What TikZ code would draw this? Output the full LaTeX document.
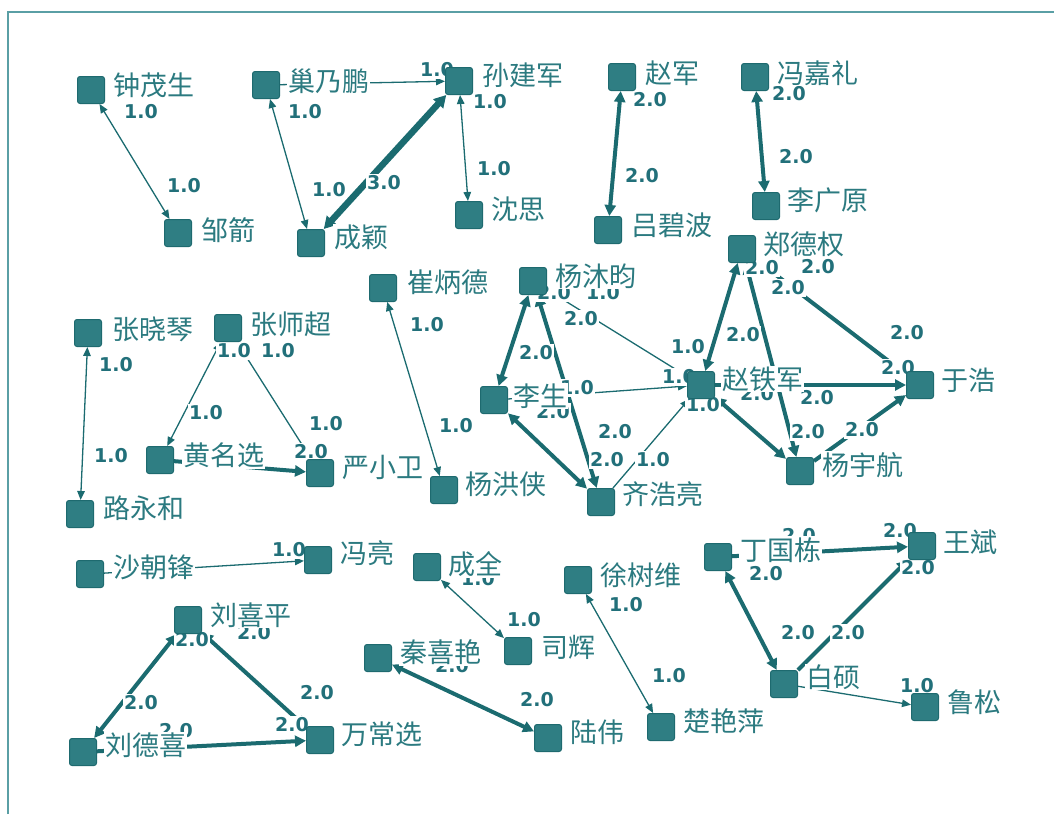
\documentclass[tikz,border=0pt]{standalone}
\usepackage{fontspec}
\newfontfamily\cjk{Noto Sans CJK SC}
\newfontfamily\dvs{DejaVu Sans}
\usetikzlibrary{arrows.meta}
\definecolor{sqfill}{HTML}{2F7E83}
\definecolor{sqdraw}{HTML}{1E6A6F}
\definecolor{txt}{HTML}{2B7A80}
\definecolor{edgec}{HTML}{1B6B70}
\definecolor{labc}{HTML}{22707A}
\definecolor{framec}{HTML}{5A9FA5}
\pgfdeclarelayer{edges}\pgfdeclarelayer{elab}\pgfdeclarelayer{names}
\pgfsetlayers{edges,elab,main,names}
\tikzset{
 sq/.style={minimum size=27pt, inner sep=0pt, rounded corners=2.5pt, fill=sqfill, draw=sqdraw, line width=1pt},
 nm/.style={anchor=west, fill=white, inner xsep=1pt, inner ysep=1pt, text=txt, font=\fontsize{27}{27}\selectfont\cjk},
 el/.style={fill=white, inner sep=1.5pt, text=labc, font=\fontsize{19}{19}\selectfont\dvs\bfseries},
 wa/.style={draw=edgec, line width=1.3pt, >={Triangle[length=9pt,width=7.5pt]}},
 wb/.style={draw=edgec, line width=4pt, >={Triangle[length=11pt,width=11pt]}},
 wc/.style={draw=edgec, line width=6.5pt, >={Triangle[length=12pt,width=13pt]}},
 fr/.style={draw=framec, line width=1.5pt}
}
\newcommand\person[6]{\node[sq] (#1) at (#2,#3) {};
 \begin{pgfonlayer}{names}\node[nm] (#1t) at (#4,#5) {#6};\end{pgfonlayer}}
\newcommand\elab[4]{\node[el] (#1) at (#2,#3) {#4};}
\begin{document}
\begin{tikzpicture}[x=1pt,y=-1pt]
\useasboundingbox (0,0) rectangle (1054,814);
\draw[fr] (8,814) -- (8,12) -- (1054,12);
% people
\person{zms}{91}{90}{112}{85}{钟茂生}
\person{zj}{178}{233}{200}{230}{邹箭}
\person{cnp}{266}{85}{287}{81}{巢乃鹏}
\person{sjj}{459}{81}{481}{75}{孙建军}
\person{cy}{311}{243}{333}{237}{成颖}
\person{ss}{469}{215}{490}{209}{沈思}
\person{zjun}{622}{77}{644}{73}{赵军}
\person{lbb}{608}{230}{630}{225}{吕碧波}
\person{fjl}{755}{77}{776}{73}{冯嘉礼}
\person{lgy}{766}{206}{786}{200}{李广原}
\person{zdq}{742}{249}{762}{244}{郑德权}
\person{zxq}{88}{333}{111}{329}{张晓琴}
\person{zsc}{228}{328}{249}{324}{张师超}
\person{cbd}{383}{288}{406}{282}{崔炳德}
\person{ymy}{533}{281}{554}{276}{杨沐昀}
\person{hmx}{160}{460}{182}{455}{黄名选}
\person{yxw}{320}{473}{341}{467}{严小卫}
\person{yhx}{444}{490}{464}{484}{杨洪侠}
\person{ls}{494}{400}{512}{396}{李生}
\person{qhl}{601}{502}{621}{494}{齐浩亮}
\person{ztj}{701}{385}{721}{379}{赵铁军}
\person{yh}{920}{385}{940}{380}{于浩}
\person{yyh}{800}{471}{821}{465}{杨宇航}
\person{lyh}{80}{514}{102}{508}{路永和}
\person{scf}{90}{574}{112}{567}{沙朝锋}
\person{fl}{318}{560}{339}{553}{冯亮}
\person{cq}{427}{567}{447}{564}{成全}
\person{sh}{518}{651}{540}{647}{司辉}
\person{xsw}{578}{580}{599}{575}{徐树维}
\person{dgd}{718}{557}{739}{550}{丁国栋}
\person{wbin}{922}{546}{942}{542}{王斌}
\person{lxp}{188}{620}{209}{615}{刘喜平}
\person{qxy}{378}{658}{399}{652}{秦喜艳}
\person{ldx}{83}{752}{104}{745}{刘德喜}
\person{wcx}{320}{740}{340}{734}{万常选}
\person{lw}{548}{738}{569}{732}{陆伟}
\person{cyp}{661}{727}{682}{721}{楚艳萍}
\person{bs}{784}{684}{805}{677}{白硕}
\person{lsong}{925}{707}{946}{702}{鲁松}
% edges
\begin{pgfonlayer}{edges}
\draw[wa,<->] (zms) -- (zj);
\draw[wa,<->] (cnp) -- (cy);
\draw[wa,->] (cnp) -- (sjj);
\draw[wc,<->] (sjj) -- (cy);
\draw[wa,<->] (sjj) -- (ss);
\draw[wb,<->] (zjun) -- (lbb);
\draw[wb,<->] (fjl) -- (lgy);
\draw[wa,<->] (zxq) -- (lyh);
\draw[wa,<->] (zsc) -- (hmx);
\draw[wa,->] (zsc) -- (yxw);
\draw[wb,->] (hmx) -- (yxw);
\draw[wa,<->] (cbd) -- (yhx);
\draw[wb,<->] (ymy) -- (ls);
\draw[wb,<->] (ymy) -- (qhl);
\draw[wb,<->] (ls) -- (qhl);
\draw[wa,<->] (ymy) -- (ztj);
\draw[wa,->] (ls) -- (ztj);
\draw[wa,->] (qhl) -- (ztj);
\draw[wb,<->] (ztj) -- (zdq);
\draw[wb,<->] (zdq) -- (yyh);
\draw[wb,<->] (zdq) -- (yh);
\draw[wb,->] (ztj) -- (yh);
\draw[wb,<->] (ztj) -- (yyh);
\draw[wb,->] (yyh) -- (yh);
\draw[wa,->] (scf) -- (fl);
\draw[wa,<->] (cq) -- (sh);
\draw[wa,<->] (xsw) -- (cyp);
\draw[wb,<->] (qxy) -- (lw);
\draw[wb,<->] (lxp) -- (ldx);
\draw[wb,<->] (lxp) -- (wcx);
\draw[wb,->] (ldx) -- (wcx);
\draw[wb,->] (dgd) -- (wbin);
\draw[wb,<->] (dgd) -- (bs);
\draw[wb,->] (bs) -- (wbin);
\draw[wa,->] (bs) -- (lsong);
\end{pgfonlayer}
% edge labels
\begin{pgfonlayer}{elab}
\elab{a1}{141}{112}{1.0}
\elab{a2}{184}{186}{1.0}
\elab{a3}{305}{112}{1.0}
\elab{a4}{329}{190}{1.0}
\elab{a5}{437}{70}{1.0}
\elab{a6}{490}{102}{1.0}
\elab{a7}{494}{169}{1.0}
\elab{a8}{116}{365}{1.0}
\elab{a9}{111}{456}{1.0}
\elab{a10}{234}{351}{1.0}
\elab{a11}{278}{351}{1.0}
\elab{a12}{206}{413}{1.0}
\elab{a13}{326}{424}{1.0}
\elab{a14}{427}{325}{1.0}
\elab{a15}{456}{426}{1.0}
\elab{a16}{603}{293}{1.0}
\elab{a17}{688}{347}{1.0}
\elab{a18}{679}{377}{1.0}
\elab{a19}{577}{388}{1.0}
\elab{a20}{653}{460}{1.0}
\elab{a21}{703}{405}{1.0}
\elab{a22}{289}{550}{1.0}
\elab{a23}{478}{579}{1.0}
\elab{a24}{524}{620}{1.0}
\elab{a25}{626}{605}{1.0}
\elab{a26}{669}{676}{1.0}
\elab{a27}{917}{686}{1.0}
\elab{b1}{384}{183}{3.0}
\elab{c1}{650}{100}{2.0}
\elab{c2}{642}{176}{2.0}
\elab{c3}{789}{94}{2.0}
\elab{c4}{796}{157}{2.0}
\elab{c5}{311}{452}{2.0}
\elab{c6}{554}{293}{2.0}
\elab{c7}{581}{319}{2.0}
\elab{c8}{536}{353}{2.0}
\elab{c9}{553}{412}{2.0}
\elab{c10}{615}{432}{2.0}
\elab{c11}{607}{460}{2.0}
\elab{c12}{762}{268}{2.0}
\elab{c13}{818}{267}{2.0}
\elab{c14}{788}{288}{2.0}
\elab{c15}{743}{335}{2.0}
\elab{c16}{907}{333}{2.0}
\elab{c17}{898}{368}{2.0}
\elab{c18}{757}{394}{2.0}
\elab{c19}{817}{398}{2.0}
\elab{c20}{808}{432}{2.0}
\elab{c21}{862}{430}{2.0}
\elab{c22}{192}{640}{2.0}
\elab{c23}{254}{633}{2.0}
\elab{c24}{141}{703}{2.0}
\elab{c25}{317}{693}{2.0}
\elab{c26}{292}{725}{2.0}
\elab{c27}{176}{731}{2.0}
\elab{c28}{537}{700}{2.0}
\elab{c29}{452}{666}{2.0}
\elab{c30}{799}{536}{2.0}
\elab{c31}{900}{531}{2.0}
\elab{c32}{766}{574}{2.0}
\elab{c33}{918}{568}{2.0}
\elab{c34}{798}{633}{2.0}
\elab{c35}{848}{633}{2.0}
\end{pgfonlayer}
\end{tikzpicture}
\end{document}
